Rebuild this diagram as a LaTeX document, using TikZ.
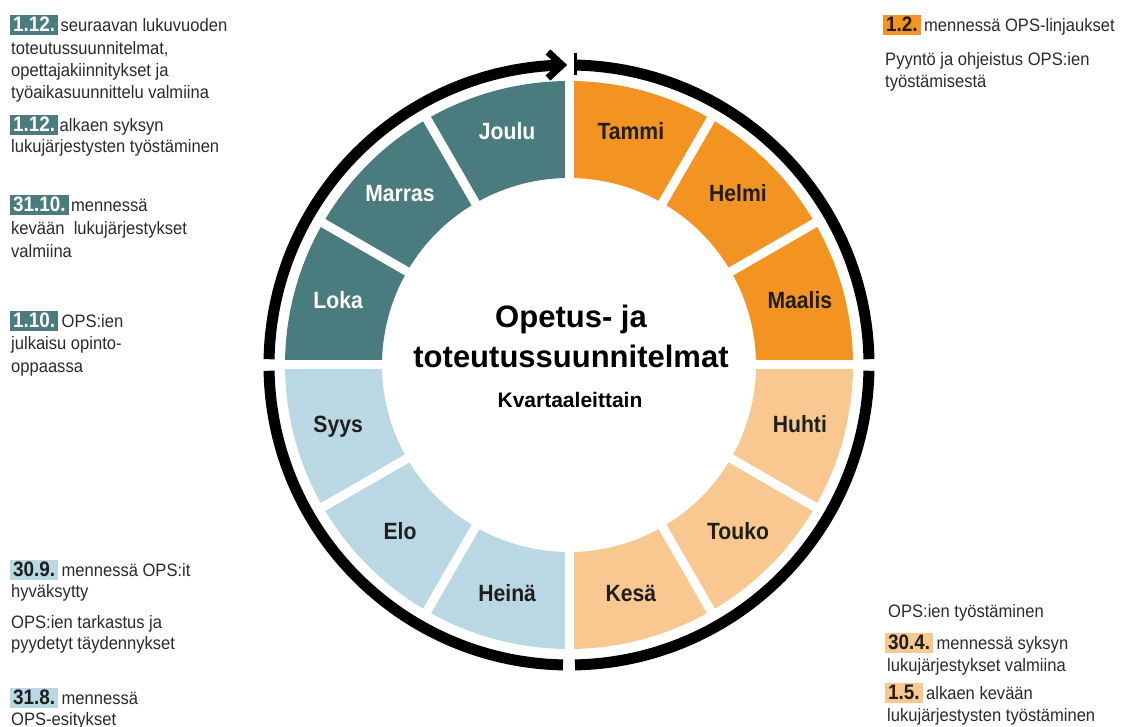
\documentclass[tikz,border=0pt]{standalone}
\usepackage{fontspec}
\setmainfont{Liberation Sans}
\newfontfamily\condf{Liberation Sans}[FakeStretch=0.9]
\newfontfamily\bodyf{Liberation Sans}[FakeStretch=0.92]
\definecolor{tealc}{HTML}{4A7B7F}
\definecolor{orangec}{HTML}{F39422}
\definecolor{lorangec}{HTML}{F9C890}
\definecolor{lbluec}{HTML}{B9D8E3}
\definecolor{darkc}{HTML}{1E1E1E}
\definecolor{bodyc}{HTML}{2A2A2A}
\tikzset{
  body/.style={anchor=base west, inner sep=0pt, text=bodyc, font=\bodyf\fontsize{18}{22}\selectfont},
  lbl/.style={anchor=base west, inner xsep=3pt, inner ysep=2pt, text height=15pt, text depth=1pt, font=\condf\bfseries\fontsize{21}{22}\selectfont},
  month/.style={inner sep=0pt, text height=17pt, text depth=0pt, font=\condf\bfseries\fontsize{23.5}{24}\selectfont},
  ring/.style={line width=11pt, black},
  titletxt/.style={anchor=base, inner sep=0pt, text=black, font=\bfseries\fontsize{31}{32}\selectfont},
  subtxt/.style={anchor=base, inner sep=0pt, text=black, font=\bfseries\fontsize{21}{22}\selectfont}
}
\begin{document}
\begin{tikzpicture}[x=1pt,y=1pt]
\useasboundingbox (0,0) rectangle (1136,727);
\coordinate (C) at (569,362);
\coordinate (L) at (569,365);
% segments
\foreach \i/\col in {0/orangec,1/orangec,2/orangec,3/lorangec,4/lorangec,5/lorangec,6/lbluec,7/lbluec,8/lbluec,9/tealc,10/tealc,11/tealc}{
  \pgfmathsetmacro\aa{90-30*\i}
  \pgfmathsetmacro\ab{60-30*\i}
  \fill[\col] ([shift={(\aa:284pt)}]C) arc[start angle=\aa, end angle=\ab, radius=284pt]
     -- ([shift={(\ab:187pt)}]C) arc[start angle=\ab, end angle=\aa, radius=187pt] -- cycle;
}
\foreach \i in {0,...,11}{
  \draw[white, line width=9pt] ([shift={(30*\i:180pt)}]C) -- ([shift={(30*\i:292pt)}]C);
}
% outer ring
\draw[ring] ([shift={(178.9:300pt)}]C) arc[start angle=178.9, end angle=91.6, radius=300pt];
\draw[ring] ([shift={(88.9:300pt)}]C) arc[start angle=88.9, end angle=1.1, radius=300pt];
\draw[ring] ([shift={(-1.1:300pt)}]C) arc[start angle=-1.1, end angle=-88.85, radius=300pt];
\draw[ring] ([shift={(-91.15:300pt)}]C) arc[start angle=-91.15, end angle=-178.9, radius=300pt];
\coordinate (ah1) at (548,675);
\coordinate (ah2) at (562,662);
\coordinate (ah3) at (548,649);
\draw[line width=7pt, line join=miter, miter limit=10] (ah1) -- (ah2) -- (ah3);
\coordinate (bar1) at (575.5,652);
\coordinate (bar2) at (575.5,674);
\draw[line width=3.5pt] (bar1) -- (bar2);
% months
\foreach \n/\a/\t/\c in {1/75/Tammi/darkc,2/45/Helmi/darkc,3/15/Maalis/darkc,4/-15/Huhti/darkc,5/-45/Touko/darkc,6/-75/Kesä/darkc,7/-105/Heinä/darkc,8/-135/Elo/darkc,9/-165/Syys/darkc,10/165/Loka/white,11/135/Marras/white,12/105/Joulu/white}{
  \node[month, text=\c] (m\n) at ([shift={(\a:239pt)}]L) {\t};
}
% title
\node[titletxt] (t1) at (571,399) {Opetus- ja};
\node[titletxt] (t2) at (571,359) {toteutussuunnitelmat};
\node[subtxt] (t3) at (570,319) {Kvartaaleittain};
% left column
\node[lbl, fill=tealc, text=white] (k1) at (10,695) {1.12.};
\node[body] (a1) at ([xshift=2pt]k1.base east) {seuraavan lukuvuoden};
\node[body] (a2) at (11,672) {toteutussuunnitelmat,};
\node[body] (a3) at (11,650) {opettajakiinnitykset ja};
\node[body] (a4) at (11,628) {työaikasuunnittelu valmiina};
\node[lbl, fill=tealc, text=white] (k2) at (10,595) {1.12.};
\node[body] (b1) at ([xshift=1pt]k2.base east) {alkaen syksyn};
\node[body] (b2) at (11,574) {lukujärjestysten työstäminen};
\node[lbl, fill=tealc, text=white] (k3) at (10,515) {31.10.};
\node[body] (c1) at ([xshift=2pt]k3.base east) {mennessä};
\node[body] (c2) at (11,492) {kevään\ \ lukujärjestykset};
\node[body] (c3) at (11,469) {valmiina};
\node[lbl, fill=tealc, text=white] (k4) at (10,399) {1.10.};
\node[body] (d1) at ([xshift=3pt]k4.base east) {OPS:ien};
\node[body] (d2) at (11,377) {julkaisu opinto-};
\node[body] (d3) at (11,354) {oppaassa};
\node[lbl, fill=lbluec, text=darkc] (k5) at (10,150) {30.9.};
\node[body] (e1) at ([xshift=3pt]k5.base east) {mennessä OPS:it};
\node[body] (e2) at (11,129) {hyväksytty};
\node[body] (e3) at (11,98) {OPS:ien tarkastus ja};
\node[body] (e4) at (11,77) {pyydetyt täydennykset};
\node[lbl, fill=lbluec, text=darkc] (k6) at (10,22) {31.8.};
\node[body] (f1) at ([xshift=3pt]k6.base east) {mennessä};
\node[body] (f2) at (11,1) {OPS-esitykset};
% right column
\node[lbl, fill=orangec, text=darkc] (k7) at (883,695) {1.2.};
\node[body] (g1) at ([xshift=3pt]k7.base east) {mennessä OPS-linjaukset};
\node[body] (g2) at (885,661) {Pyyntö ja ohjeistus OPS:ien};
\node[body] (g3) at (885,639) {työstämisestä};
\node[body] (h1) at (888,109) {OPS:ien työstäminen};
\node[lbl, fill=lorangec, text=darkc] (k8) at (885,77) {30.4.};
\node[body] (h2) at ([xshift=3pt]k8.base east) {mennessä syksyn};
\node[body] (h3) at (887,55) {lukujärjestykset valmiina};
\node[lbl, fill=lorangec, text=darkc] (k9) at (885,27) {1.5.};
\node[body] (i1) at ([xshift=3pt]k9.base east) {alkaen kevään};
\node[body] (i2) at (887,5) {lukujärjestysten työstäminen};
\end{tikzpicture}
\end{document}
